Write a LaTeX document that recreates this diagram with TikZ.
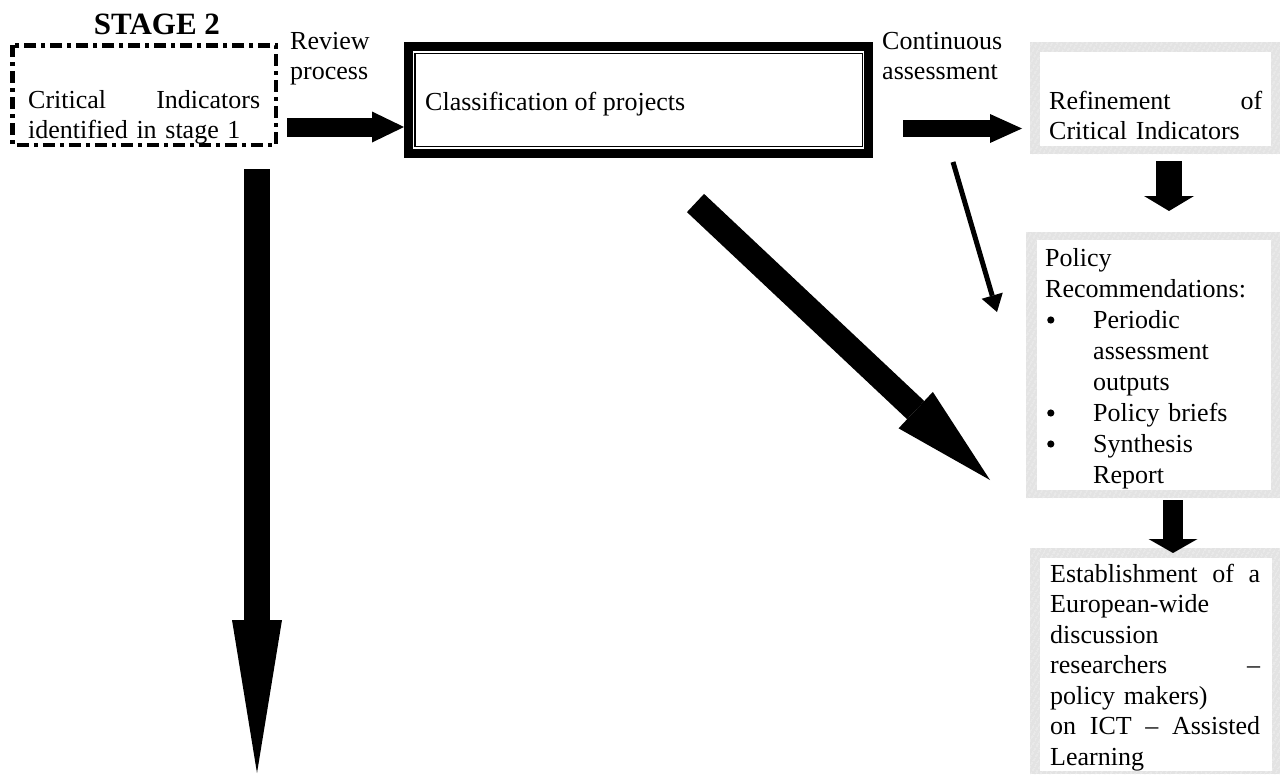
\documentclass[tikz,border=0pt]{standalone}
\usepackage{fontspec}
\setmainfont{Liberation Serif}
\usetikzlibrary{arrows.meta,calc,patterns.meta}
\definecolor{hatchgray}{HTML}{E3E3E3}
\definecolor{hatchline}{HTML}{F4F4F4}
\newcommand{\bulletmark}{\makebox[48pt][l]{\hspace*{2pt}\tikz[baseline=0pt]\fill (3.6pt,8pt) circle [radius=3.6pt];}}
\begin{document}
\begin{tikzpicture}[x=1pt,y=-1pt,
  boxshape/.style={rectangle,inner sep=0pt,outer sep=0pt},
  hatchbox/.style={rectangle,inner sep=0pt,outer sep=0pt,fill=hatchgray,
     postaction={pattern={Lines[angle=60,distance=4pt,line width=0.8pt]},pattern color=hatchline}},
  txt/.style={inner sep=0pt,anchor=base west,align=left,font=\fontsize{26}{30}\selectfont},
  blockarrow/.style n args={3}{draw=black,line width=#1,-{Triangle[length=#2,width=#3,line width=0pt]}},
  dashdotframe/.style={line width=4.5pt,dash pattern=on 12pt off 5pt on 4pt off 5pt},
]
\useasboundingbox (0,0) rectangle (1287,774);

% ---------- boxes ----------
\node[boxshape,minimum width=268pt,minimum height=104pt] (b1) at (144,95) {};
\draw[dashdotframe] ($(b1.north west)+(2.25,2.25)$) rectangle ($(b1.south east)+(-2.25,-2.25)$);

\node[boxshape,minimum width=469pt,minimum height=116pt] (b2) at (638.5,100) {};
\draw[line width=9pt] ($(b2.north west)+(4.5,4.5)$) rectangle ($(b2.south east)+(-4.5,-4.5)$);
\draw[line width=1.4pt] ($(b2.north west)+(11,11.5)$) rectangle ($(b2.south east)+(-10.5,-11.5)$);

\node[hatchbox,minimum width=250pt,minimum height=112pt] (b3) at (1155,98) {};
\fill[white] ($(b3.north west)+(10,10)$) rectangle ($(b3.south east)+(-9,-8)$);

\node[hatchbox,minimum width=254pt,minimum height=266pt] (b4) at (1153,365) {};
\fill[white] ($(b4.north west)+(11,8)$) rectangle ($(b4.south east)+(-9,-8)$);

\node[hatchbox,minimum width=250pt,minimum height=226pt] (b5) at (1155,661) {};
\fill[white] ($(b5.north west)+(10,10)$) rectangle ($(b5.south east)+(-8,-3)$);

% ---------- texts ----------
\node[inner sep=0pt,anchor=base,font=\fontsize{31}{36}\selectfont\bfseries] (tstage) at (157,34) {STAGE 2};
\node[txt,text width=232pt] (t1) at (28,108) {Critical\hfill Indicators\\identified in stage 1};
\node[txt] (tr) at (290,79) {Review\\process};
\node[txt] (t2) at (425,110) {Classification of projects};
\node[txt] (tc) at (882,79) {Continuous\\assessment};
\node[txt,text width=213pt] (t3) at (1049,109) {Refinement\hfill of\\Critical Indicators};
\node[txt,text width=226pt,font=\fontsize{26}{31}\selectfont] (t4) at (1045,266) {Policy\\Recommendations:\\
\bulletmark Periodic\\\hspace*{48pt}assessment\\\hspace*{48pt}outputs\\
\bulletmark Policy briefs\\
\bulletmark Synthesis\\\hspace*{48pt}Report};
\node[txt,text width=210pt,font=\fontsize{26}{30.5}\selectfont] (t5) at (1050,582) {Establishment\hfill of\hfill a\\European-wide\\discussion\\researchers\hfill –\\policy makers)\\on\hfill ICT\hfill –\hfill Assisted\\Learning};

% ---------- connectors ----------
\coordinate (a7end) at (257,773);
\draw[blockarrow={26pt}{153pt}{50pt}] ($(b1.south)+(113,22)$) -- (a7end);
\draw[blockarrow={19pt}{32pt}{31pt}] ($(b1.east)+(9,32)$) -- ($(b2.west)+(0,27)$);
\draw[blockarrow={17pt}{32pt}{29pt}] ($(b2.east)+(30,28.5)$) -- ($(b3.west)+(-8,30.5)$);
\draw[blockarrow={25pt}{102pt}{50pt}] ($(b2.south)+(57,45)$) -- ($(b4.west)+(-36,115)$);
\draw[blockarrow={5pt}{17pt}{22pt}] ($(b2.south east)+(80,4)$) -- ($(b4.west)+(-29,-53)$);
\draw[blockarrow={26pt}{15pt}{50pt}] ($(b3.south)+(14,7)$) -- ($(b4.north)+(16,-21)$);
\draw[blockarrow={20pt}{14pt}{49pt}] ($(b4.south)+(20,2)$) -- ($(b5.north)+(18,5)$);
\end{tikzpicture}
\end{document}
